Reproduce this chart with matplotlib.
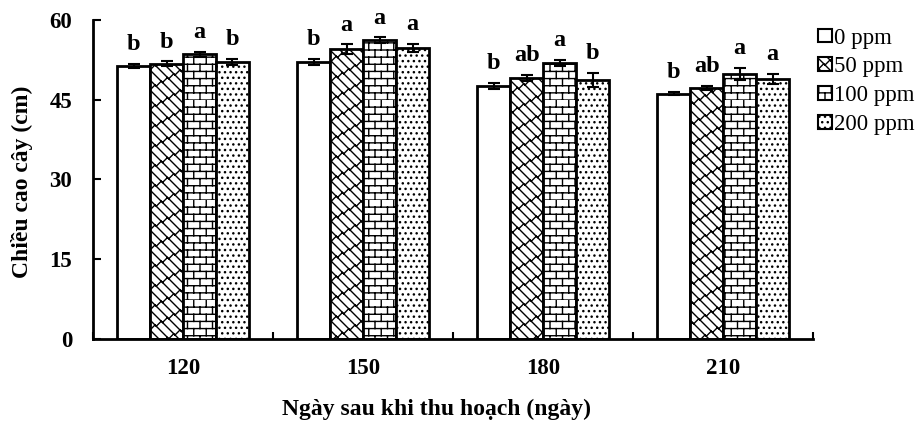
import numpy as np
import matplotlib
matplotlib.use('Agg')
import matplotlib.pyplot as plt
import matplotlib.hatch as mhatch
from matplotlib.path import Path
from matplotlib.patches import Patch

plt.rcParams['font.family'] = ['Liberation Serif', 'DejaVu Serif']
plt.rcParams['hatch.linewidth'] = 1.0

# data
days = ['120', '150', '180', '210']
doses = ['0 ppm', '50 ppm', '100 ppm', '200 ppm']
heights = [
    [51.3, 52.1, 47.6, 46.1],   # 0 ppm
    [51.8, 54.5, 49.1, 47.2],   # 50 ppm
    [53.5, 56.2, 51.9, 49.8],   # 100 ppm
    [52.1, 54.7, 48.7, 48.9],   # 200 ppm
]
errors = [
    [0.4, 0.5, 0.5, 0.3],
    [0.4, 0.9, 0.6, 0.4],
    [0.5, 0.5, 0.6, 1.1],
    [0.6, 0.8, 1.4, 0.9],
]
letters = [
    ['b', 'b', 'b', 'b'],
    ['b', 'a', 'ab', 'ab'],
    ['a', 'a', 'a', 'a'],
    ['b', 'a', 'b', 'a'],
]


# custom hatch tiles (brick and diagonal brick)
def brick_path(rows=14, cols=8):
    verts, codes = [], []
    for k in range(rows):
        y0, y1 = k / rows, (k + 1) / rows
        verts += [(0, y0), (1, y0)]
        codes += [Path.MOVETO, Path.LINETO]
        off = 0.5 * (k % 2)
        for j in range(-1, cols + 1):
            x = (j + off) / cols
            verts += [(x, y0), (x, y1)]
            codes += [Path.MOVETO, Path.LINETO]
    return Path(verts, codes)


def diag_brick_path(n=10, m=8):
    verts, codes = [], []
    for k in range(-n, 2 * n + 1):
        c = k / n
        verts += [(c - 2, 2), (c + 2, -2)]
        codes += [Path.MOVETO, Path.LINETO]
        off = 0.5 * (k % 2)
        for j in range(-m, 2 * m):
            t = (j + off) / m
            verts += [(t, c - t), (t + 0.5 / n, c - t + 0.5 / n)]
            codes += [Path.MOVETO, Path.LINETO]
    return Path(verts, codes)


_orig_get_path = mhatch.get_path


def _get_path(hatchpattern, density=6):
    if hatchpattern == '+++':
        return brick_path()
    if hatchpattern == 'xxx':
        return diag_brick_path()
    return _orig_get_path(hatchpattern, density)


mhatch.get_path = _get_path

hatches = ['', 'xxx', '+++', '...']

fig = plt.figure(figsize=(9.21, 4.24), dpi=100)
ax = fig.add_axes([0.101, 0.2005, 0.782, 0.7525])

x = np.arange(len(days))
w = 0.183
for i in range(len(doses)):
    pos = x + (i - 1.5) * w
    ax.bar(pos, heights[i], w, color='white', edgecolor='black',
           linewidth=2, hatch=hatches[i], zorder=2)
    ax.errorbar(pos, heights[i], yerr=errors[i], fmt='none', ecolor='black',
                elinewidth=1.5, capsize=4, capthick=1.5, zorder=3)
    for p, h, e, lab in zip(pos, heights[i], errors[i], letters[i]):
        ax.text(p, h + e + 2.6, lab, ha='center', va='baseline',
                fontsize=17.5, fontweight='bold')

ax.set_xlim(-0.5, 3.5)
ax.set_ylim(0, 60)
ax.set_yticks([0, 15, 30, 45, 60])
ax.set_xticks(np.arange(-0.5, 4, 1))
ax.set_xticklabels([])
ax.set_xticks(x, minor=True)
ax.set_xticklabels(days, minor=True)
ax.tick_params(axis='x', which='major', direction='in', length=5, width=1.5)
ax.tick_params(axis='x', which='minor', length=0, pad=14, labelsize=16.5)
ax.tick_params(axis='y', direction='in', length=6, width=1.5, pad=15,
               labelsize=16.5)
for lab in ax.get_xticklabels(minor=True) + ax.get_yticklabels():
    lab.set_fontweight('bold')
for s in ['top', 'right']:
    ax.spines[s].set_visible(False)
for s in ['left', 'bottom']:
    ax.spines[s].set_linewidth(2)

fig.text(436 / 921, 1 - 409 / 424, 'Ngày sau khi thu hoạch (ngày)',
         ha='center', va='center', fontsize=17, fontweight='bold')
fig.text(22 / 921, 1 - 182 / 424, 'Chiều cao cây (cm)', rotation=90,
         ha='center', va='center', fontsize=17, fontweight='bold')

handles = [Patch(facecolor='white', edgecolor='black', linewidth=1.5,
                 hatch=h, label=d) for h, d in zip(hatches, doses)]
fig.legend(handles=handles, loc='upper left', bbox_to_anchor=(0.888, 0.935),
           frameon=False, fontsize=16.5, handlelength=0.6, handleheight=0.55,
           handletextpad=0.1, labelspacing=0.34, borderaxespad=0,
           borderpad=0)

fig.savefig('out.png', dpi=100)
